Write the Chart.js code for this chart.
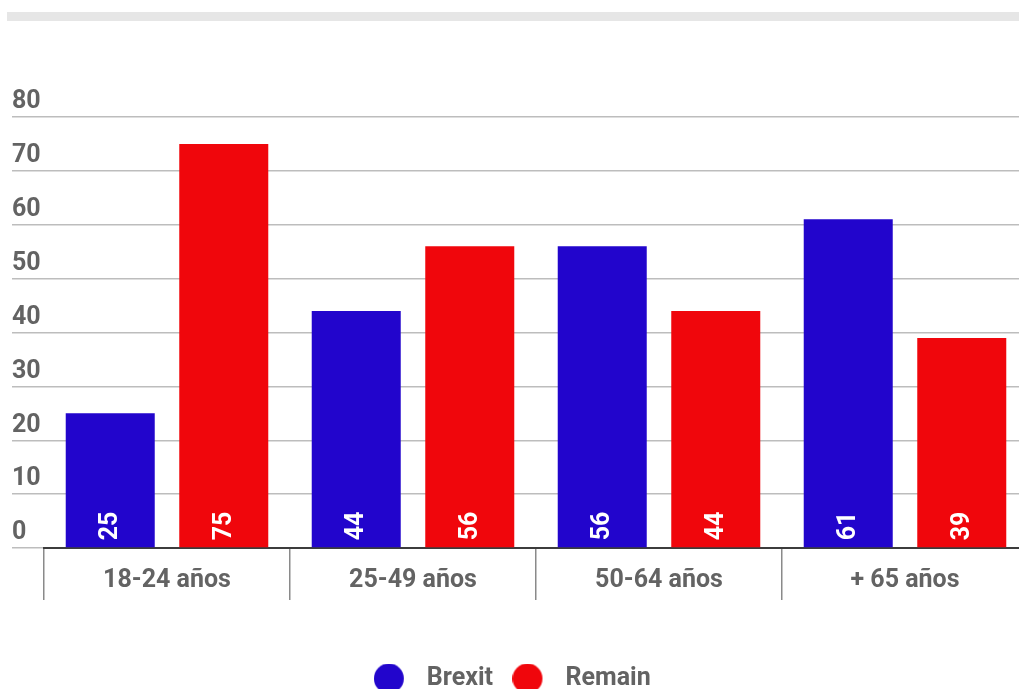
<!DOCTYPE html>
<html>
<head>
<meta charset="utf-8">
<script src="https://cdn.jsdelivr.net/npm/chart.js@4/dist/chart.umd.min.js"></script>
<style>
  html, body { margin: 0; padding: 0; background: #fff; overflow: hidden; }
  #topbar { position: absolute; left: 7px; top: 12px; width: 1012px; height: 9px; background: #e6e6e6; }
  #wrap { position: absolute; left: 0; top: 0; width: 1030px; height: 701px; }
</style>
</head>
<body>
<div id="topbar"></div>
<div id="wrap"><canvas id="chart"></canvas></div>
<script>
const categories = ["18-24 años", "25-49 años", "50-64 años", "+ 65 años"];
const brexit = [25, 44, 56, 61];
const remain = [75, 56, 44, 39];
const yMin = 0, yMax = 80, yStep = 10;

const BLUE = "#2205cc";
const RED = "#f0060c";
const TEXT = "#636363";

// legend dot, drawn a bit to the left so the gap before the text matches
function legendDot(color) {
  const c = document.createElement("canvas");
  c.width = 56; c.height = 30;
  const g = c.getContext("2d");
  g.fillStyle = color;
  g.beginPath();
  g.arc(15, 15, 15, 0, Math.PI * 2);
  g.fill();
  return c;
}

// white vertical value labels at the foot of each bar
const barLabels = {
  id: "barLabels",
  afterDatasetsDraw(chart) {
    const ctx = chart.ctx;
    ctx.save();
    ctx.fillStyle = "#fff";
    ctx.font = "bold 25px Roboto";
    ctx.textAlign = "left";
    ctx.textBaseline = "middle";
    chart.data.datasets.forEach((ds, i) => {
      chart.getDatasetMeta(i).data.forEach((bar, j) => {
        ctx.save();
        ctx.translate(bar.x, bar.base - 7);
        ctx.rotate(-Math.PI / 2);
        ctx.fillText(String(ds.data[j]), 0, 1);
        ctx.restore();
      });
    });
    ctx.restore();
  }
};

const font = { family: "Roboto", size: 25, weight: "bold" };

new Chart(document.getElementById("chart"), {
  type: "bar",
  data: {
    labels: categories,
    datasets: [
      { label: "Brexit", data: brexit, backgroundColor: BLUE, borderWidth: 0, pointStyle: legendDot(BLUE),
        categoryPercentage: 0.923, barPercentage: 0.784 },
      { label: "Remain", data: remain, backgroundColor: RED, borderWidth: 0, pointStyle: legendDot(RED),
        categoryPercentage: 0.923, barPercentage: 0.784 }
    ]
  },
  options: {
    responsive: true,
    maintainAspectRatio: false,
    animation: false,
    layout: { padding: { top: 117, left: 12, right: 2, bottom: 0 } },
    scales: {
      x: {
        offset: true,
        grid: { offset: true, drawOnChartArea: false, drawTicks: true, tickLength: 52, color: "#8a8a8a", lineWidth: 1.5 },
        border: { display: true, color: "#3c3c3c", width: 2 },
        ticks: { padding: -34, color: TEXT, font: font },
        afterFit(s) { s.height = 83; }
      },
      y: {
        min: yMin,
        max: yMax,
        ticks: { stepSize: yStep, crossAlign: "far", labelOffset: -15, color: TEXT, font: font },
        grid: { color: "#bdbdbd", lineWidth: 1.5, tickLength: 32 },
        border: { display: false },
        afterFit(s) { s.width = 32; }
      }
    },
    plugins: {
      legend: {
        position: "bottom",
        labels: { usePointStyle: true, padding: 35, color: TEXT, font: font }
      },
      tooltip: { enabled: false }
    }
  },
  plugins: [barLabels]
});
</script>
</body>
</html>
